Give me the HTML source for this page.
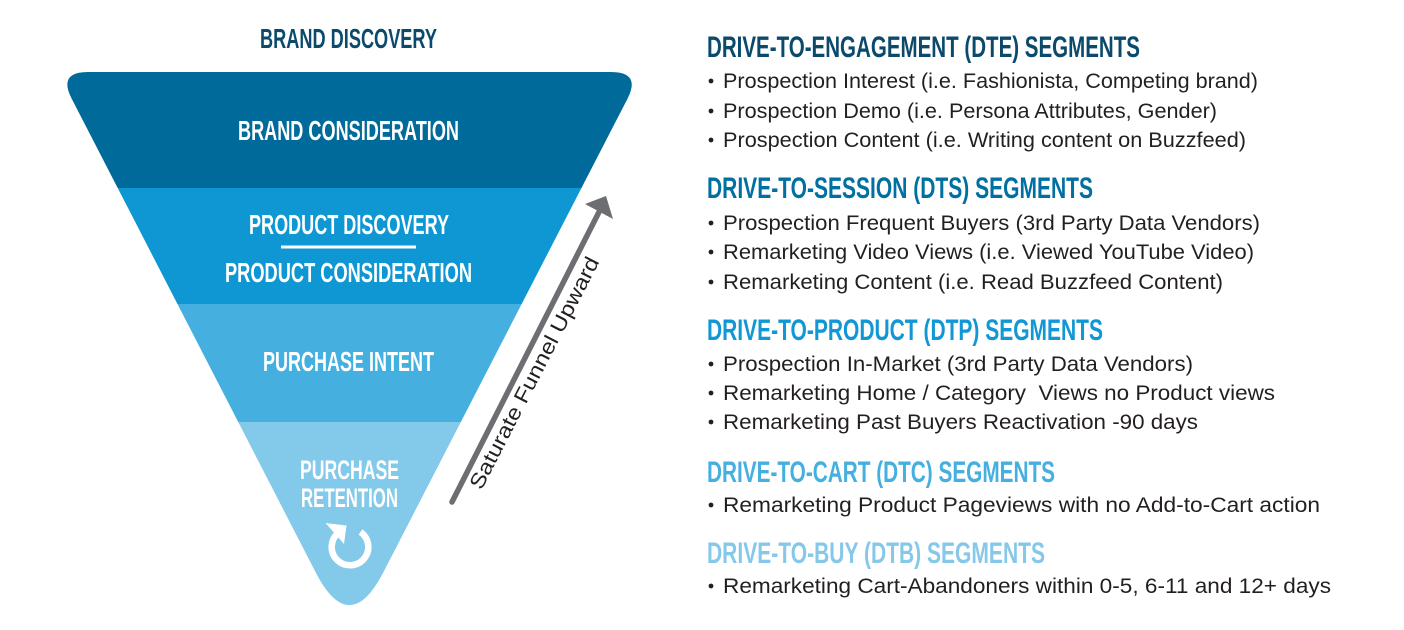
<!DOCTYPE html>
<html>
<head>
<meta charset="utf-8">
<style>
  html, body { margin: 0; padding: 0; background: #ffffff; }
  body { width: 1404px; height: 630px; overflow: hidden; }
  svg { display: block; }
  .cond { font-family: "Liberation Sans", "DejaVu Sans", sans-serif; font-weight: bold; }
  .body { font-family: "Liberation Sans", "DejaVu Sans", sans-serif; font-weight: normal; fill: #231f20; font-size: 21px; }
</style>
</head>
<body>
<svg width="1404" height="630" viewBox="0 0 1404 630" xmlns="http://www.w3.org/2000/svg">
  <defs>
    <clipPath id="funnel">
      <path d="M 88 72 L 611 72 Q 641.2 72 627.5 98.7 L 383.4 572.2 Q 349.5 638 315.6 572.2 L 71.7 98.7 Q 57.8 72 88 72 Z"/>
    </clipPath>
  </defs>

  <!-- Funnel bands -->
  <g clip-path="url(#funnel)">
    <rect x="40" y="60" width="620" height="128" fill="#006b9a"/>
    <rect x="40" y="188" width="620" height="116" fill="#0e97d3"/>
    <rect x="40" y="304" width="620" height="118" fill="#45b0e0"/>
    <rect x="40" y="422" width="620" height="230" fill="#83c9ea"/>
  </g>

  <!-- Funnel labels -->
  <text class="cond" x="260" y="48" font-size="27.5" fill="#0b4a6c" textLength="177" lengthAdjust="spacingAndGlyphs">BRAND DISCOVERY</text>
  <text class="cond" x="238" y="140" font-size="27.5" fill="#ffffff" textLength="221" lengthAdjust="spacingAndGlyphs">BRAND CONSIDERATION</text>
  <text class="cond" x="249" y="234" font-size="27.5" fill="#ffffff" textLength="200" lengthAdjust="spacingAndGlyphs">PRODUCT DISCOVERY</text>
  <rect x="281" y="245.5" width="135" height="3" fill="#ffffff"/>
  <text class="cond" x="225" y="282" font-size="27.5" fill="#ffffff" textLength="247" lengthAdjust="spacingAndGlyphs">PRODUCT CONSIDERATION</text>
  <text class="cond" x="263" y="371" font-size="27.5" fill="#ffffff" textLength="171" lengthAdjust="spacingAndGlyphs">PURCHASE INTENT</text>
  <text class="cond" x="300" y="479" font-size="27" fill="#ffffff" textLength="99" lengthAdjust="spacingAndGlyphs">PURCHASE</text>
  <text class="cond" x="301" y="507" font-size="27" fill="#ffffff" textLength="97" lengthAdjust="spacingAndGlyphs">RETENTION</text>

  <!-- Refresh icon -->
  <path d="M 360.5 532 A 18.3 18.3 0 1 1 338.2 533" fill="none" stroke="#ffffff" stroke-width="6.5"/>
  <polygon points="325.5,523 346.5,525.5 344,544" fill="#ffffff"/>

  <!-- Saturate arrow -->
  <line x1="452" y1="502" x2="599" y2="212" stroke="#6d6e71" stroke-width="5.5" stroke-linecap="round"/>
  <polygon points="585,204 606,196 613,219" fill="#6d6e71"/>
  <text class="body" font-size="23" transform="translate(481.4,490.7) rotate(-62.7)" textLength="258" lengthAdjust="spacingAndGlyphs">Saturate Funnel Upward</text>

  <!-- DTE -->
  <text class="cond" x="707" y="57" font-size="30" fill="#0b4a6c" textLength="433" lengthAdjust="spacingAndGlyphs">DRIVE-TO-ENGAGEMENT (DTE) SEGMENTS</text>
  <circle cx="711" cy="81" r="2.4" fill="#231f20"/>
  <text class="body" x="723" y="88" textLength="535" lengthAdjust="spacingAndGlyphs">Prospection Interest (i.e. Fashionista, Competing brand)</text>
  <circle cx="711" cy="111" r="2.4" fill="#231f20"/>
  <text class="body" x="723" y="118" textLength="494" lengthAdjust="spacingAndGlyphs">Prospection Demo (i.e. Persona Attributes, Gender)</text>
  <circle cx="711" cy="140" r="2.4" fill="#231f20"/>
  <text class="body" x="723" y="147" textLength="523" lengthAdjust="spacingAndGlyphs">Prospection Content (i.e. Writing content on Buzzfeed)</text>

  <!-- DTS -->
  <text class="cond" x="707" y="198" font-size="30" fill="#0070a1" textLength="386" lengthAdjust="spacingAndGlyphs">DRIVE-TO-SESSION (DTS) SEGMENTS</text>
  <circle cx="711" cy="223" r="2.4" fill="#231f20"/>
  <text class="body" x="723" y="230" textLength="537" lengthAdjust="spacingAndGlyphs">Prospection Frequent Buyers (3rd Party Data Vendors)</text>
  <circle cx="711" cy="252" r="2.4" fill="#231f20"/>
  <text class="body" x="723" y="259" textLength="531" lengthAdjust="spacingAndGlyphs">Remarketing Video Views (i.e. Viewed YouTube Video)</text>
  <circle cx="711" cy="282" r="2.4" fill="#231f20"/>
  <text class="body" x="723" y="289" textLength="500" lengthAdjust="spacingAndGlyphs">Remarketing Content (i.e. Read Buzzfeed Content)</text>

  <!-- DTP -->
  <text class="cond" x="707" y="340" font-size="30" fill="#1097d4" textLength="396" lengthAdjust="spacingAndGlyphs">DRIVE-TO-PRODUCT (DTP) SEGMENTS</text>
  <circle cx="711" cy="364" r="2.4" fill="#231f20"/>
  <text class="body" x="723" y="371" textLength="470" lengthAdjust="spacingAndGlyphs">Prospection In-Market (3rd Party Data Vendors)</text>
  <circle cx="711" cy="393" r="2.4" fill="#231f20"/>
  <text class="body" x="723" y="400" textLength="552" lengthAdjust="spacingAndGlyphs" xml:space="preserve">Remarketing Home / Category  Views no Product views</text>
  <circle cx="711" cy="422" r="2.4" fill="#231f20"/>
  <text class="body" x="723" y="429" textLength="475" lengthAdjust="spacingAndGlyphs">Remarketing Past Buyers Reactivation -90 days</text>

  <!-- DTC -->
  <text class="cond" x="707" y="482" font-size="30" fill="#45afe0" textLength="348" lengthAdjust="spacingAndGlyphs">DRIVE-TO-CART (DTC) SEGMENTS</text>
  <circle cx="711" cy="505" r="2.4" fill="#231f20"/>
  <text class="body" x="723" y="512" textLength="597" lengthAdjust="spacingAndGlyphs">Remarketing Product Pageviews with no Add-to-Cart action</text>

  <!-- DTB -->
  <text class="cond" x="707" y="563" font-size="30" fill="#86c8ea" textLength="338" lengthAdjust="spacingAndGlyphs">DRIVE-TO-BUY (DTB) SEGMENTS</text>
  <circle cx="711" cy="586" r="2.4" fill="#231f20"/>
  <text class="body" x="723" y="593" textLength="608" lengthAdjust="spacingAndGlyphs">Remarketing Cart-Abandoners within 0-5, 6-11 and 12+ days</text>
</svg>
</body>
</html>
